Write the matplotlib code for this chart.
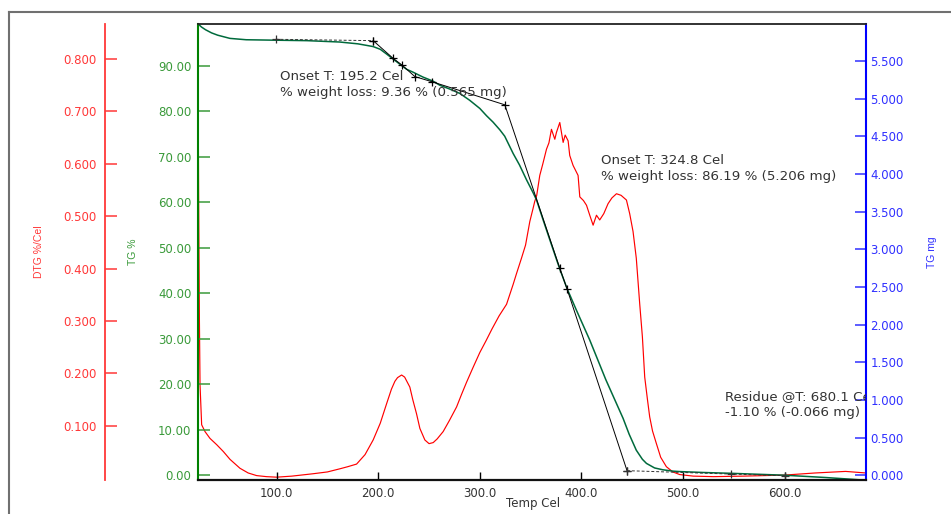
import matplotlib
matplotlib.use('Agg')
import matplotlib.pyplot as plt
from matplotlib.lines import Line2D

# TG curve (temperature in Cel, weight in %)
tg_temp = [22.6, 26, 30, 36, 42, 54, 70, 99, 130, 162, 180, 195, 202, 208, 215, 222,
           228, 234, 244, 254, 260.6, 270, 280.3, 290, 300, 306.6, 313, 319.7, 324.5, 332.8,
           339, 346, 352.4, 355.8, 362.3, 370, 378.7, 385.9, 395, 408.2, 424, 433, 441, 447,
           454, 460, 464, 472, 480, 490, 497, 520, 550, 600, 640, 680.1]
tg_pct = [99.2, 98.5, 97.9, 97.2, 96.7, 96.0, 95.7, 95.6, 95.5, 95.2, 94.8, 94.2, 93.6, 92.6,
          91.4, 90.2, 89.2, 88.6, 87.5, 86.6, 85.7, 84.9, 83.9, 82.4, 80.6, 79.0, 77.6, 75.9,
          74.5, 70.7, 68.2, 64.9, 62.1, 60.5, 56.1, 51.0, 45.3, 41.0, 36.3, 29.7, 21.0, 16.5,
          12.5, 9.0, 5.5, 3.5, 2.6, 1.6, 1.2, 0.9, 0.8, 0.6, 0.4, 0.0, -0.5, -1.1]

# DTG curve (%/Cel)
dtg_temp = [22.6, 23.2, 24.0, 24.6, 26.2, 29.5, 34.4, 41, 47.5, 54.1,
            63.9, 72, 80.3, 90, 100, 115, 135.7, 150, 162.3, 170,
            178.7, 187, 195, 202, 208.2, 213, 216.4, 219, 223, 226,
            231.1, 234, 237.7, 241, 245.9, 250, 254.1, 258, 263.9, 270,
            277.1, 282, 286.9, 293, 300, 306, 312, 319, 326.3, 332.8,
            336, 341, 345, 349.2, 352.4, 354, 356, 359, 362, 365.6,
            368, 370.5, 373.8, 375.4, 378.7, 382, 384, 386.9, 388.5, 391.8,
            396.7, 398.4, 402, 405, 408.2, 411.5, 414.8, 418, 422, 426.2,
            430, 434.5, 439, 444.3, 447.5, 450.8, 454, 457.4, 460, 462.3,
            465, 467.2, 470, 473.8, 478, 483.6, 490, 496.7, 510, 530,
            560, 600, 630, 660, 680]
dtg_val = [0.80, 0.55, 0.30, 0.178, 0.102, 0.089, 0.076, 0.064, 0.051, 0.036,
           0.019, 0.010, 0.005, 0.003, 0.002, 0.004, 0.0085, 0.012, 0.018, 0.022,
           0.027, 0.045, 0.073, 0.105, 0.142, 0.170, 0.185, 0.192, 0.197, 0.193,
           0.174, 0.150, 0.123, 0.095, 0.073, 0.066, 0.068, 0.075, 0.089, 0.110,
           0.136, 0.160, 0.183, 0.210, 0.240, 0.262, 0.285, 0.310, 0.332, 0.370,
           0.390, 0.420, 0.445, 0.490, 0.515, 0.528, 0.540, 0.578, 0.600, 0.628,
           0.640, 0.666, 0.647, 0.660, 0.679, 0.641, 0.655, 0.644, 0.616, 0.597,
           0.578, 0.537, 0.530, 0.521, 0.502, 0.483, 0.502, 0.493, 0.505, 0.524,
           0.535, 0.543, 0.540, 0.531, 0.505, 0.471, 0.420, 0.332, 0.270, 0.193,
           0.150, 0.117, 0.090, 0.066, 0.040, 0.022, 0.012, 0.007, 0.004, 0.003,
           0.004, 0.006, 0.010, 0.013, 0.010]

# analysis construction lines (temperature, weight %)
base1_temp = [99.0, 195.0]
base1_pct = [95.8, 95.5]
tan_temp = [195.0, 214.7, 223.0, 236.1, 252.5, 324.6, 378.7, 385.9, 444.9]
tan_pct = [95.5, 91.6, 90.2, 87.6, 86.5, 81.4, 45.5, 40.9, 1.0]
base2_temp = [444.9, 546.9, 600.0]
base2_pct = [1.0, 0.26, -0.1]

initial_mass = 6.04  # mg
x_ticks = [100, 200, 300, 400, 500, 600]
tg_ticks = [0, 10, 20, 30, 40, 50, 60, 70, 80, 90]
dtg_ticks = [0.1, 0.2, 0.3, 0.4, 0.5, 0.6, 0.7, 0.8]
mg_ticks = [0, 0.5, 1.0, 1.5, 2.0, 2.5, 3.0, 3.5, 4.0, 4.5, 5.0, 5.5]

W, H = 951, 514
fig = plt.figure(figsize=(W / 100, H / 100), dpi=100)
L, R, T, B = 198, 866, 24, 480
ax = fig.add_axes([L / W, 1 - B / H, (R - L) / W, (B - T) / H])
ax_dtg = ax.twinx()
ax_mg = ax.twinx()
ax.set_zorder(3)
ax.patch.set_visible(False)

red, red_l = '#ff0000', '#ff3838'
green, green_l, green_c = '#008000', '#3a9a3a', '#006a3c'
blue, blue_l = '#0000ff', '#3030ff'
tick_font = dict(family='DejaVu Sans', size=8.5)

# red DTG curve
ax_dtg.plot(dtg_temp, dtg_val, color=red, lw=0.85)
ax_dtg.set_ylim(-0.0034, 0.867)

# green TG curve and construction lines
ax.plot(tg_temp, tg_pct, color=green_c, lw=1.1)
ax.plot(base1_temp, base1_pct, color='#333333', lw=0.7, ls=(0, (3, 2)), marker='+', ms=6, mew=0.9)
ax.plot(tan_temp, tan_pct, color='#000000', lw=0.7, marker='+', ms=6, mew=0.9)
ax.plot(base2_temp, base2_pct, color='#333333', lw=0.7, ls=(0, (3, 2)), marker='+', ms=6, mew=0.9)
ax.set_xlim(22.6, 680.1)
ax.set_ylim(-1.05, 99.16)
ax_mg.set_ylim(-1.05 * initial_mass / 100, 99.16 * initial_mass / 100)

# x axis
ax.set_xticks(x_ticks)
ax.set_xticklabels(['%.1f' % v for v in x_ticks], **tick_font, color='#333333')
ax.tick_params(axis='x', direction='in', length=5.8, width=1, color='#000000', pad=5)

# TG % axis (left, green)
ax.set_yticks(tg_ticks)
ax.set_yticklabels(['%.2f' % v for v in tg_ticks], **tick_font, color=green_l)
ax.tick_params(axis='y', direction='in', length=8.6, width=1.1, color=green_l, pad=4.8)
ax.spines['left'].set_color(green)
ax.spines['left'].set_linewidth(1.5)
ax.spines['right'].set_visible(False)
ax.spines['top'].set_color('#222222')
ax.spines['top'].set_linewidth(1.3)
ax.spines['bottom'].set_color('#111111')
ax.spines['bottom'].set_linewidth(1.6)

# DTG axis (offset left, red)
for s in ['right', 'top', 'bottom']:
    ax_dtg.spines[s].set_visible(False)
ax_dtg.spines['left'].set_visible(True)
ax_dtg.spines['left'].set_position(('axes', (105 - L) / (R - L)))
ax_dtg.spines['left'].set_color(red_l)
ax_dtg.spines['left'].set_linewidth(1.3)
ax_dtg.yaxis.set_ticks_position('left')
ax_dtg.set_yticks(dtg_ticks)
ax_dtg.set_yticklabels(['%.3f' % v for v in dtg_ticks], **tick_font, color=red_l)
ax_dtg.tick_params(axis='y', direction='in', length=8.4, width=1.1, color=red_l, pad=5.8)

# TG mg axis (right, blue)
for s in ['left', 'top', 'bottom']:
    ax_mg.spines[s].set_visible(False)
ax_mg.spines['right'].set_color(blue)
ax_mg.spines['right'].set_linewidth(1.5)
ax_mg.set_yticks(mg_ticks)
ax_mg.set_yticklabels(['%.3f' % v for v in mg_ticks], **tick_font, color=blue_l)
ax_mg.tick_params(axis='y', direction='in', length=7.9, width=1.1, color=blue_l, pad=3.1)

# axis titles
lab_font = dict(family='Liberation Sans', size=7.5)
fig.text(39 / W, 1 - 252 / H, 'DTG %/Cel', rotation=90, color=red_l, ha='center', va='center', **lab_font)
fig.text(133 / W, 1 - 252 / H, 'TG %', rotation=90, color=green_l, ha='center', va='center', **lab_font)
fig.text(932 / W, 1 - 252 / H, 'TG mg', rotation=90, color=blue_l, ha='center', va='center', **lab_font)
fig.text(533 / W, 1 - 504 / H, 'Temp Cel', color='#333333', ha='center', va='center',
         family='DejaVu Sans', size=8.5)

# result annotations
def note(px, py, s):
    ax.text((px - L) / (R - L), (B - py) / (B - T), s, transform=ax.transAxes,
            ha='left', va='baseline', family='DejaVu Sans', size=9.6, color='#333333',
            clip_on=True, zorder=5)

note(280, 80, 'Onset T: 195.2 Cel')
note(280, 96, '% weight loss: 9.36 % (0.565 mg)')
note(600.7, 164.3, 'Onset T: 324.8 Cel')
note(600.7, 180, '% weight loss: 86.19 % (5.206 mg)')
note(725, 400, 'Residue @T: 680.1 Cel')
note(725, 416, '-1.10 % (-0.066 mg)')

# outer grey frame
fig.add_artist(Line2D([9 / W, 1], [1 - 12 / H, 1 - 12 / H], transform=fig.transFigure,
                      color='#707070', lw=1.5))
fig.add_artist(Line2D([9 / W, 9 / W], [0, 1 - 12 / H], transform=fig.transFigure,
                      color='#707070', lw=1.5))

fig.savefig('out.png', dpi=100)
